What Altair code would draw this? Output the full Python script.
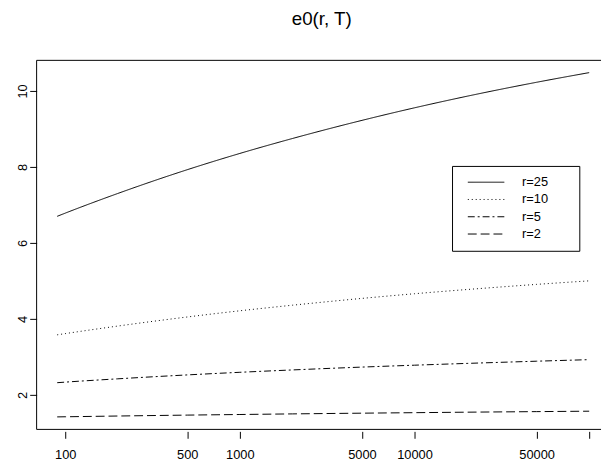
import altair as alt
import pandas as pd

# ---- data ----
T = [90, 100, 200, 500, 1000, 2000, 5000, 10000, 20000, 50000, 100000]
e0_r25 = [6.70, 6.783, 7.301, 7.927, 8.355, 8.748, 9.225, 9.556, 9.861, 10.228, 10.482]
e0_r10 = [3.58, 3.612, 3.811, 4.050, 4.213, 4.360, 4.539, 4.662, 4.773, 4.908, 5.001]
e0_r5 = [2.32, 2.335, 2.422, 2.525, 2.594, 2.656, 2.731, 2.781, 2.828, 2.886, 2.927]
e0_r2 = [1.42, 1.423, 1.443, 1.467, 1.483, 1.499, 1.518, 1.531, 1.544, 1.559, 1.570]
series = ["r=25", "r=10", "r=5", "r=2"]
x_ticks = [100, 500, 1000, 5000, 10000, 50000, 100000]
y_ticks = [2, 4, 6, 8, 10]

rows = []
for name, vals in zip(series, [e0_r25, e0_r10, e0_r5, e0_r2]):
    for t, v in zip(T, vals):
        rows.append({"T": t, "e0": v, "series": name})
df = pd.DataFrame(rows)

W, H = 572, 374
FONT = "Liberation Sans"

lines = alt.Chart(df).mark_line(color="black", strokeWidth=1, interpolate="monotone").encode(
    x=alt.X("T:Q",
            scale=alt.Scale(type="log", domain=[68.6, 116900], nice=False),
            axis=alt.Axis(values=x_ticks, title=None, grid=False, domain=False,
                          tickSize=7, offset=2, labelPadding=10, tickColor="black",
                          labelExpr="datum.value > 99999 ? '' : format(datum.value, 'd')",
                          labelFontSize=13, labelFont=FONT, labelColor="black",
                          labelFlush=False, labelOverlap=False)),
    y=alt.Y("e0:Q",
            scale=alt.Scale(domain=[1.091, 10.805], nice=False, zero=False),
            axis=alt.Axis(values=y_ticks, title=None, grid=False, domain=False,
                          tickSize=7, tickColor="black", labelAngle=270,
                          labelAlign="center", labelBaseline="alphabetic",
                          labelPadding=3, labelFontSize=13, labelFont=FONT,
                          labelColor="black", labelFlush=False, labelOverlap=False)),
    strokeDash=alt.StrokeDash(
        "series:N",
        scale=alt.Scale(domain=series, range=[[1, 0], [1, 3], [7, 3, 2, 3], [9, 4]]),
        legend=alt.Legend(title=None, orient="none", legendX=421, legendY=107,
                          strokeColor="black", padding=10,
                          symbolType="M-3.7,0H3.7", symbolSize=100,
                          symbolStrokeWidth=1, symbolStrokeColor="black",
                          symbolFillColor="transparent", symbolOffset=18,
                          labelOffset=30, labelFontSize=13, labelFont=FONT,
                          labelColor="black", rowPadding=3.5,
                          labelExpr="datum.label + '\u00a0\u00a0\u00a0\u2800'")),
)

frame_df = pd.DataFrame({"a": [0]})
top = alt.Chart(frame_df).mark_rule(color="black", strokeWidth=1).encode(
    x=alt.value(0), x2=alt.value(W), y=alt.value(0))
bottom = alt.Chart(frame_df).mark_rule(color="black", strokeWidth=1).encode(
    x=alt.value(0), x2=alt.value(W), y=alt.value(H))
left = alt.Chart(frame_df).mark_rule(color="black", strokeWidth=1).encode(
    x=alt.value(0), y=alt.value(0), y2=alt.value(H))

chart = alt.layer(lines, top, bottom, left).properties(
    width=W, height=H,
    title=alt.Title("e0(r, T)", fontSize=19, font=FONT, fontWeight="normal",
                    color="black", anchor="middle", offset=12, baseline="bottom", dx=3),
    autosize=alt.AutoSizeParams(type="none"),
    padding={"left": 29, "top": 50, "right": 2, "bottom": 31},
    background="white",
).configure_view(stroke=None)

chart.save("out.html", embed_options={"renderer": "svg", "actions": False})
